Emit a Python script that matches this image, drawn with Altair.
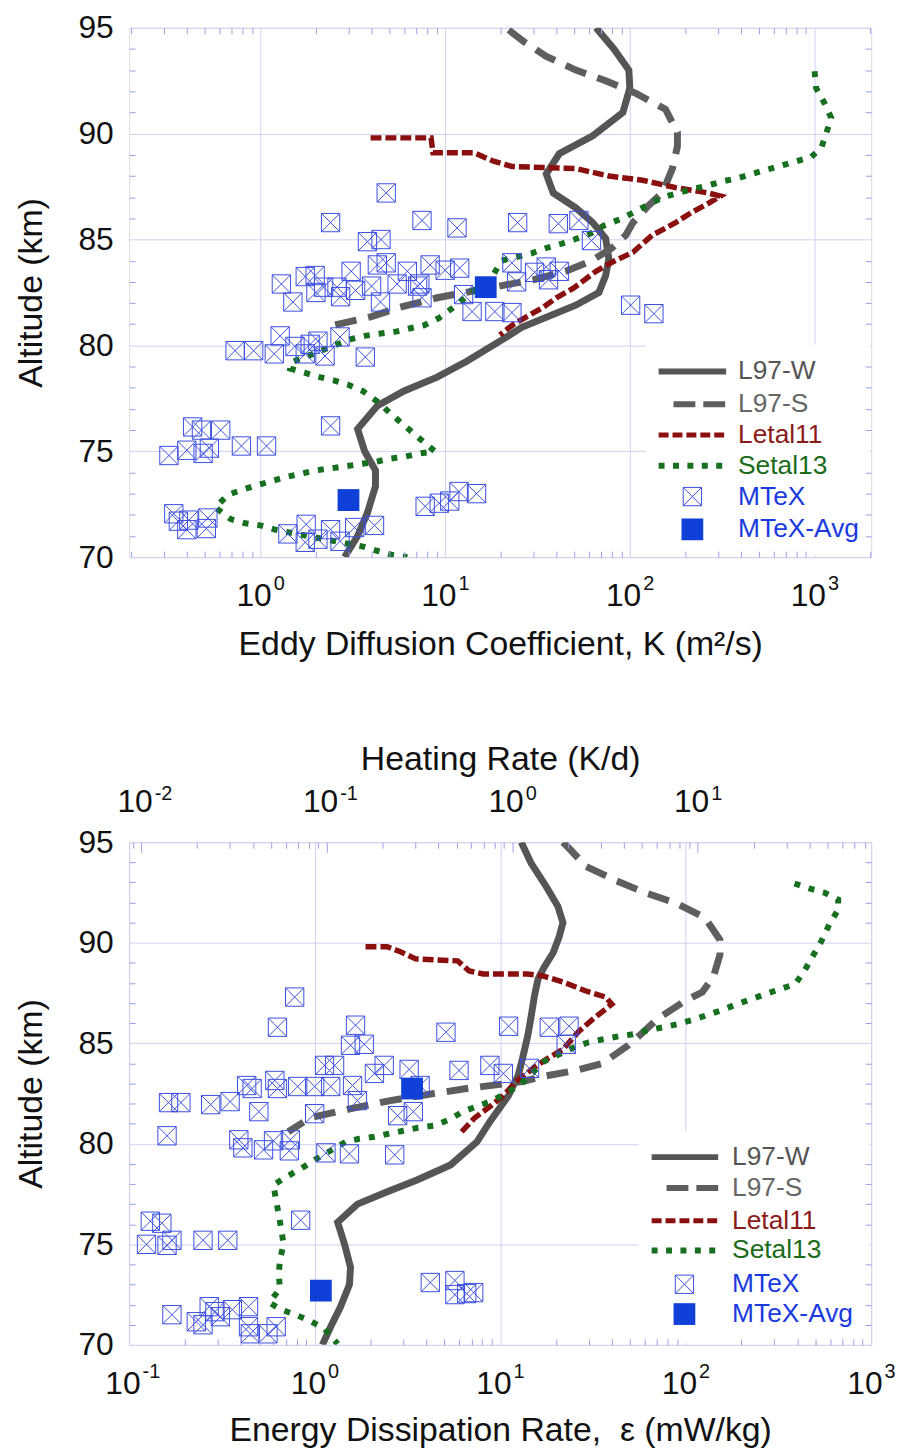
import altair as alt
import pandas as pd

FONT = "Liberation Sans"
GRID = "#d0d0f4"
FRAME = "#a0a0ea"
TICKC = "#9c9ce8"
C_W = "#555555"
C_S = "#5e5e5e"
C_L = "#8a0f0f"
C_SE = "#17701f"
C_MT = "#3b4fe0"
C_AVG = "#1040d8"
TXT = "#111111"

SERIES = ["L97-W", "L97-S", "Letal11", "Setal13", "MTeX", "MTeX-Avg"]

# ---------------- Top panel: eddy diffusion coefficient K (m^2/s) vs altitude (km) ----------------
K_L97W = [(95.0, 65.6), (94.0, 82), (93.0, 98.8), (92.15, 100), (91.0, 91.7), (89.9, 63), (89.05, 41.5),
          (88.1, 35.3), (87.2, 38.5), (86.5, 51), (85.8, 63), (85.05, 74), (84.1, 77), (83.3, 74), (82.5, 68),
          (81.9, 51), (80.85, 26), (80.2, 19.8), (79.25, 13.1), (78.5, 9.06), (77.85, 6.0), (77.15, 4.3),
          (76.05, 3.36), (75.0, 3.67), (74.1, 4.2), (73.35, 4.2), (72.1, 3.8), (71.0, 3.36), (70.0, 2.86)]
K_L97S = [(94.9, 22.1), (94.35, 26.6), (93.65, 35.3), (93.0, 51), (92.5, 74), (91.9, 108), (91.15, 156),
          (90.05, 181), (89.4, 181), (88.35, 170), (87.2, 150), (86.6, 126), (85.8, 104), (85.2, 95), (84.6, 80),
          (84.0, 62), (83.5, 45), (83.1, 30), (82.7, 17), (82.25, 9.06), (81.8, 5.7), (81.35, 3.95), (80.95, 2.5)]
K_LETAL11 = [(89.8, 3.95), (89.8, 8.4), (89.1, 8.6), (89.1, 14.3), (88.7, 18.3), (88.45, 23), (88.4, 34),
             (88.35, 51), (88.0, 77), (87.8, 117), (87.45, 177), (87.2, 265), (87.05, 309), (86.7, 265),
             (86.3, 218), (85.8, 177), (85.2, 132), (84.4, 104), (83.95, 81), (83.5, 65.6), (82.7, 49.5),
             (82.25, 40), (81.8, 34), (81.35, 27.6), (81.0, 23.5), (80.5, 19.8)]
K_SETAL13 = [(92.95, 1000), (92.15, 1020), (91.45, 1130), (90.75, 1230), (90.05, 1160), (89.35, 1090),
             (88.9, 960), (88.7, 800), (88.5, 666), (88.3, 553), (88.1, 460), (87.9, 385), (87.75, 318),
             (87.55, 265), (87.4, 221), (87.2, 183), (87.0, 152), (86.65, 126), (86.3, 106), (85.95, 88),
             (85.65, 72), (85.3, 62), (85.0, 50), (84.8, 42.7), (84.6, 35.3), (84.35, 29.4), (84.0, 20.2),
             (83.35, 18.3), (81.85, 11.3), (81.3, 9.3), (80.95, 7.7), (80.8, 6.4), (80.65, 5.4), (80.55, 4.4),
             (80.45, 3.67), (80.3, 3.09), (79.2, 1.47), (78.9, 1.45), (78.7, 1.75), (78.5, 2.1), (78.35, 2.5),
             (78.15, 2.97), (77.85, 3.58), (77.35, 4.3), (76.7, 5.2), (76.1, 6.25), (75.55, 7.4), (75.0, 8.8),
             (74.9, 7.3), (74.75, 6.1), (74.65, 5.0), (74.5, 4.2), (74.4, 3.5), (74.3, 2.94), (74.2, 2.44),
             (74.1, 2.0), (73.95, 1.68), (73.8, 1.4), (73.6, 1.16), (73.4, 0.96), (73.2, 0.81), (72.95, 0.67),
             (72.35, 0.57), (71.8, 0.69), (71.6, 0.83), (71.5, 1.0), (71.3, 1.2), (70.5, 3.6), (70.3, 4.3),
             (70.1, 5.2), (70.0, 6.25)]
K_MTEX = [(87.2, 4.8), (85.8, 2.4), (85.9, 7.5), (85.55, 11.6), (85.8, 24.7), (85.75, 41), (85.9, 53),
          (84.95, 62), (84.9, 3.8), (85.0, 4.5), (82.9, 1.3), (83.25, 1.75), (83.3, 1.98), (83.5, 3.1),
          (83.8, 4.3), (83.9, 4.8), (83.5, 6.25), (83.8, 8.3), (83.55, 10), (83.65, 12), (83.9, 23),
          (83.7, 35.3), (83.5, 41.5), (83.45, 30.5), (83.0, 24.4), (83.1, 36.3), (82.9, 7.3), (82.9, 5.5),
          (82.75, 2.2), (82.75, 2.6), (82.05, 1.5), (82.5, 2.0), (82.3, 2.72), (82.6, 3.28), (82.8, 4.0),
          (82.05, 4.47), (82.8, 7.1), (82.25, 7.5), (81.6, 14), (81.6, 18.6), (82.4, 12.6), (81.55, 23),
          (81.9, 101), (81.5, 135), (80.45, 1.28), (79.95, 1.54), (80.05, 1.86), (80.2, 2.05), (80.4, 2.7),
          (79.75, 0.73), (79.75, 0.92), (79.6, 1.19), (79.6, 1.75), (79.5, 2.24), (79.45, 3.7), (76.2, 2.4),
          (76.15, 0.43), (76.0, 0.48), (76.0, 0.61), (74.8, 0.32), (75.05, 0.40), (74.9, 0.49), (75.15, 0.53),
          (75.25, 0.79), (75.25, 1.08), (72.4, 7.8), (72.55, 9.3), (72.65, 10.6), (73.1, 11.9), (73.0, 14.8),
          (72.05, 0.34), (71.75, 0.41), (71.85, 0.52), (71.3, 0.40), (71.35, 0.51), (71.7, 0.36), (71.1, 1.41),
          (71.55, 1.77), (71.3, 2.4), (71.4, 3.24), (71.5, 4.15), (70.7, 1.75), (70.85, 2.05), (70.75, 2.7)]
K_MTEX_AVG = [(72.7, 3.0), (82.75, 16.6)]

# ---------------- Bottom panel: energy dissipation rate eps (mW/kg) vs altitude (km) ----------------
E_L97W = [(95.0, 13.0), (93.95, 14.7), (92.8, 17.7), (91.8, 20.5), (91.0, 21.8), (90.3, 20.8), (89.5, 19.3),
          (88.8, 17.3), (88.2, 16.0), (87.35, 15.3), (86.35, 14.7), (85.4, 14.1), (84.25, 13.2), (83.4, 12.5),
          (82.4, 11.1), (81.1, 8.8), (80.1, 7.5), (78.95, 5.4), (78.2, 3.56), (77.55, 2.37), (77.0, 1.7),
          (76.1, 1.33), (75.0, 1.45), (73.85, 1.56), (73.0, 1.54), (71.9, 1.38), (70.9, 1.22), (70.0, 1.1)]
E_L97S = [(95.0, 21.8), (94.7, 23.5), (93.8, 29), (93.1, 42), (92.5, 60), (92.0, 87), (91.25, 127),
          (90.15, 153), (89.4, 153), (88.3, 141), (87.55, 123), (87.1, 99), (86.2, 70), (85.55, 59), (84.9, 49),
          (84.0, 35.6), (83.65, 25.6), (83.35, 17), (83.1, 13.2), (82.75, 6.6), (82.5, 4.4), (82.15, 2.56),
          (81.75, 1.57), (81.3, 0.95), (80.6, 0.72)]
E_LETAL11 = [(89.8, 1.88), (89.8, 2.46), (89.55, 2.9), (89.2, 3.5), (89.1, 5.9), (88.6, 6.8), (88.45, 8.1),
             (88.45, 14), (88.35, 17), (88.05, 21.8), (87.6, 29), (87.3, 37), (86.95, 40), (86.7, 37),
             (86.2, 31.6), (85.6, 26.6), (84.7, 21.8), (84.2, 17.7), (83.75, 15), (83.1, 12.2), (82.4, 10.4),
             (81.85, 8.8), (81.3, 7.3), (80.6, 6.2)]
E_SETAL13 = [(92.95, 386), (92.7, 464), (92.5, 558), (92.15, 664), (91.65, 664), (90.9, 594), (90.05, 537),
             (89.3, 482), (88.6, 436), (87.95, 390), (87.7, 324), (87.45, 270), (87.2, 227), (86.95, 189),
             (86.65, 157), (86.4, 130), (86.15, 108), (85.95, 90), (85.8, 76), (85.65, 63), (85.45, 52),
             (85.35, 43.6), (85.2, 36), (85.05, 30), (84.8, 25), (84.45, 20.8), (84.1, 17.3), (83.0, 13),
             (82.6, 11.2), (82.15, 9.1), (81.9, 7.7), (81.6, 6.3), (81.2, 5.3), (80.9, 4.4), (80.8, 3.6),
             (80.65, 3.0), (80.5, 2.5), (80.35, 2.1), (80.25, 1.74), (80.1, 1.47), (79.2, 1.0), (78.75, 0.84),
             (78.35, 0.70), (77.95, 0.60), (77.15, 0.62), (76.5, 0.64), (75.75, 0.66), (75.0, 0.68),
             (74.25, 0.65), (73.5, 0.64), (72.8, 0.65), (72.1, 0.57), (71.75, 0.66), (71.5, 0.79), (71.2, 0.94),
             (70.8, 1.13), (70.05, 1.33)]
E_MTEX = [(87.3, 0.78), (85.8, 0.63), (85.9, 1.66), (84.9, 1.56), (84.95, 1.85), (85.55, 5.1), (85.85, 11.1),
          (85.8, 18.4), (85.85, 23.5), (84.95, 22.7), (83.9, 1.13), (83.9, 1.28), (83.5, 2.1), (83.9, 2.37),
          (83.7, 3.23), (82.9, 3.7), (83.65, 6.0), (83.9, 8.8), (83.5, 10.4), (83.75, 14.4), (82.9, 0.43),
          (83.15, 0.61), (82.85, 0.81), (82.85, 1.0), (82.85, 1.22), (82.9, 1.6), (82.05, 0.163), (82.05, 0.19),
          (81.95, 0.275), (82.1, 0.35), (82.75, 0.46), (81.6, 0.50), (82.75, 0.63), (82.15, 1.7), (81.5, 1.0),
          (81.4, 2.8), (81.6, 3.4), (80.4, 0.16), (80.2, 0.39), (79.8, 0.41), (79.7, 0.53), (80.15, 0.60),
          (79.65, 0.73), (80.2, 0.74), (79.55, 1.15), (79.5, 1.54), (79.45, 2.7), (76.2, 0.84), (76.15, 0.13),
          (76.05, 0.15), (75.0, 0.124), (74.95, 0.16), (75.2, 0.17), (75.2, 0.25), (75.2, 0.34), (73.1, 4.2),
          (73.2, 5.7), (72.5, 5.7), (72.55, 6.6), (72.6, 7.2), (71.5, 0.17), (71.15, 0.23), (71.9, 0.27),
          (71.65, 0.29), (71.4, 0.31), (71.75, 0.36), (71.9, 0.44), (71.0, 0.25), (70.9, 0.62), (70.9, 0.44),
          (70.55, 0.56), (70.55, 0.45)]
E_MTEX_AVG = [(72.7, 1.08), (82.75, 3.35)]

HEAT_PER_EPS = 0.086  # K/d per mW/kg (unit conversion for the top axis)

K_DOMAIN = [0.195, 2025]
E_DOMAIN = [0.1, 1000]
H_DOMAIN = [E_DOMAIN[0] * HEAT_PER_EPS, E_DOMAIN[1] * HEAT_PER_EPS]
K_DECADES = [1, 10, 100, 1000]
E_DECADES = [0.1, 1, 10, 100, 1000]
H_DECADES = [0.01, 0.1, 1, 10]
ALT_MAJOR = [70, 75, 80, 85, 90, 95]
ALT_MINOR = [a for a in range(71, 95) if a % 5 != 0]

CROSS_BOX = "M-1,-1L1,-1L1,1L-1,1Z M-1,-1L1,1 M1,-1L-1,1"
TITLE_SIZE = 34
LABEL_SIZE = 32


def minor_vals(dom):
    out = []
    for e in range(-3, 4):
        for m in range(2, 10):
            v = m * 10.0 ** e
            if dom[0] < v < dom[1]:
                out.append(v)
    return out


def df_from(pairs):
    return pd.DataFrame({"alt": [p[0] for p in pairs], "v": [p[1] for p in pairs],
                         "i": list(range(len(pairs)))})


YS = alt.Scale(domain=[70, 95], nice=False, zero=False)


def xs(dom):
    return alt.Scale(type="log", domain=dom, nice=False)


def base_axis(orient, values, title, pad, tpad, grid):
    kw = dict(orient=orient, values=values, labelExpr="'10'", labelAlign="right", labelOffset=11,
              labelFlush=False, labelOverlap=False, labelFont=FONT, labelFontSize=LABEL_SIZE, labelColor=TXT,
              labelPadding=pad, ticks=False, tickSize=0, domain=False, grid=grid, gridColor=GRID,
              gridWidth=1, titleFont=FONT, titleFontSize=TITLE_SIZE, titleFontWeight="normal", titleColor=TXT,
              titlePadding=tpad)
    return alt.Axis(title=title, **kw)


def exp_axis(orient, values, pad):
    return alt.Axis(orient=orient, values=values, labelExpr="'' + round(log(datum.value) / LN10)",
                    labelAlign="left", labelOffset=13, labelFlush=False, labelOverlap=False, labelFont=FONT,
                    labelFontSize=20, labelColor=TXT, labelPadding=pad, ticks=False, tickSize=0,
                    domain=False, grid=False, title=None)


def tick_axis(orient, values, size):
    return alt.Axis(orient=orient, values=values, labels=False, ticks=True, tickSize=size, offset=-size,
                    tickColor=TICKC, tickWidth=1, domain=False, grid=False, title=None, zindex=1)


def y_main_axis():
    return alt.Axis(orient="left", values=ALT_MAJOR, labelFont=FONT, labelFontSize=LABEL_SIZE, labelColor=TXT,
                    labelPadding=16, ticks=False, tickSize=0, domain=False, grid=True, gridColor=GRID,
                    gridWidth=1, title="Altitude (km)", titleFont=FONT, titleFontSize=TITLE_SIZE,
                    titleFontWeight="normal", titleColor=TXT, titlePadding=30)


LEG_DF = pd.DataFrame({"series": SERIES})
LEG_TEXT_COL = {"L97-W": "#555555", "L97-S": "#666666", "Letal11": "#8b1a1a", "Setal13": "#1a6b1a",
                "MTeX": "#1a3ade", "MTeX-Avg": "#1a3ade"}


def legend_layers(rows, x0, x1, tx, sx, bg):
    def one(name):
        return alt.Chart(LEG_DF).transform_filter(alt.datum.series == name)

    out = [one("L97-W").mark_rect(fill="white", opacity=1).encode(
        x=alt.value(bg[0]), x2=alt.value(bg[1]), y=alt.value(bg[2]), y2=alt.value(bg[3]))]
    out.append(one("L97-W").mark_rule(color=C_W, strokeWidth=6).encode(
        x=alt.value(x0), x2=alt.value(x1), y=alt.value(rows[0])))
    out.append(one("L97-S").mark_rule(color=C_S, strokeWidth=6, strokeDash=[22, 8]).encode(
        x=alt.value(x0 + 15), x2=alt.value(x1), y=alt.value(rows[1])))
    out.append(one("Letal11").mark_rule(color=C_L, strokeWidth=5, strokeDash=[10, 4]).encode(
        x=alt.value(x0), x2=alt.value(x1), y=alt.value(rows[2])))
    out.append(one("Setal13").mark_rule(color=C_SE, strokeWidth=6, strokeDash=[6, 8.5]).encode(
        x=alt.value(x0), x2=alt.value(x1), y=alt.value(rows[3])))
    out.append(one("MTeX").mark_point(shape=CROSS_BOX, size=340, filled=False, color=C_MT, strokeWidth=1,
                                      opacity=1).encode(x=alt.value(sx), y=alt.value(rows[4])))
    out.append(one("MTeX-Avg").mark_square(size=480, color=C_AVG, opacity=1).encode(
        x=alt.value(sx), y=alt.value(rows[5])))
    for k, name in enumerate(SERIES):
        out.append(one(name).mark_text(align="left", baseline="middle", font=FONT, fontSize=26.5,
                                       color=LEG_TEXT_COL[name]).encode(
            text="series:N", x=alt.value(tx), y=alt.value(rows[k])))
    return out


def panel(dom, decades, w, h, l97w, l97s, let, setal, mtex, avg, xtitle, xtpad, leg, heating=False):
    minors = minor_vals(dom)

    def X(axis):
        return alt.X("v:Q", scale=xs(dom), axis=axis)

    def Y(axis):
        return alt.Y("alt:Q", scale=YS, axis=axis)

    layers = []
    layers += legend_layers(*leg)[:1]
    layers.append(alt.Chart(df_from(l97w)).mark_line(color=C_W, strokeWidth=7, clip=True).encode(
        x=X(base_axis("bottom", decades, xtitle, 24, xtpad, True)), y=Y(y_main_axis()), order="i:Q"))
    layers.append(alt.Chart(df_from(l97s)).mark_line(color=C_S, strokeWidth=7, strokeDash=[22, 12],
                                                     clip=True).encode(
        x=X(exp_axis("bottom", decades, 17)), y=Y(tick_axis("left", ALT_MINOR, 6)), order="i:Q"))
    layers.append(alt.Chart(df_from(let)).mark_line(color=C_L, strokeWidth=5.5, strokeDash=[11, 4],
                                                    clip=True).encode(
        x=X(tick_axis("bottom", minors, 6)), y=Y(tick_axis("right", ALT_MINOR, 6)), order="i:Q"))
    layers.append(alt.Chart(df_from(setal)).mark_line(color=C_SE, strokeWidth=6, strokeDash=[6, 9],
                                                      clip=True).encode(
        x=X(None if heating else tick_axis("top", minors, 6)), y=Y(None), order="i:Q"))
    layers.append(alt.Chart(df_from(mtex)).mark_point(shape=CROSS_BOX, size=340, filled=False, color=C_MT,
                                                      strokeWidth=1, opacity=1, clip=True).encode(
        x=X(None), y=Y(None)))
    layers.append(alt.Chart(df_from(avg)).mark_square(size=480, color=C_AVG, opacity=1, clip=True).encode(
        x=X(None), y=Y(None)))
    if heating:
        hminors = minor_vals(H_DOMAIN)

        def H(axis):
            return (alt.Chart(df_from(avg))
                    .transform_calculate(h="datum.v * %f" % HEAT_PER_EPS)
                    .mark_point(opacity=0)
                    .encode(x=alt.X("h:Q", scale=xs(H_DOMAIN), axis=axis), y=Y(None)))

        layers.append(H(base_axis("top", H_DECADES, "Heating Rate (K/d)", 24, 9, False)))
        layers.append(H(exp_axis("top", H_DECADES, 39)))
        layers.append(H(tick_axis("top", hminors, 6)))
        layers.append(H(tick_axis("top", H_DECADES, 10)))
    layers += legend_layers(*leg)[1:]
    return (alt.layer(*layers)
            .resolve_scale(x="independent", y="independent")
            .resolve_axis(x="independent", y="independent")
            .properties(width=w, height=h))


top = panel(K_DOMAIN, K_DECADES, 747, 533, K_L97W, K_L97S, K_LETAL11, K_SETAL13, K_MTEX, K_MTEX_AVG,
            "Eddy Diffusion Coefficient, K (m\u00b2/s)", 16,
            ([346, 379, 410, 441, 472, 505], 533, 601, 613, 567, [520, 745, 319, 531]))
bottom = panel(E_DOMAIN, E_DECADES, 747, 506, E_L97W, E_L97S, E_LETAL11, E_SETAL13, E_MTEX, E_MTEX_AVG,
               "Energy Dissipation Rate,\u00a0 \u03b5 (mW/kg)", 14,
               ([317, 348, 381, 411, 445, 475], 526, 593, 607, 559, [513, 745, 291, 504]),
               heating=True)

chart = (alt.vconcat(top, bottom, spacing=80)
         .properties(padding={"left": 5, "top": -2, "right": 0, "bottom": 2})
         .configure_view(stroke=FRAME, strokeWidth=1.3)
         .configure(background="white"))

chart.save("out.html", embed_options={"renderer": "svg", "actions": False})
